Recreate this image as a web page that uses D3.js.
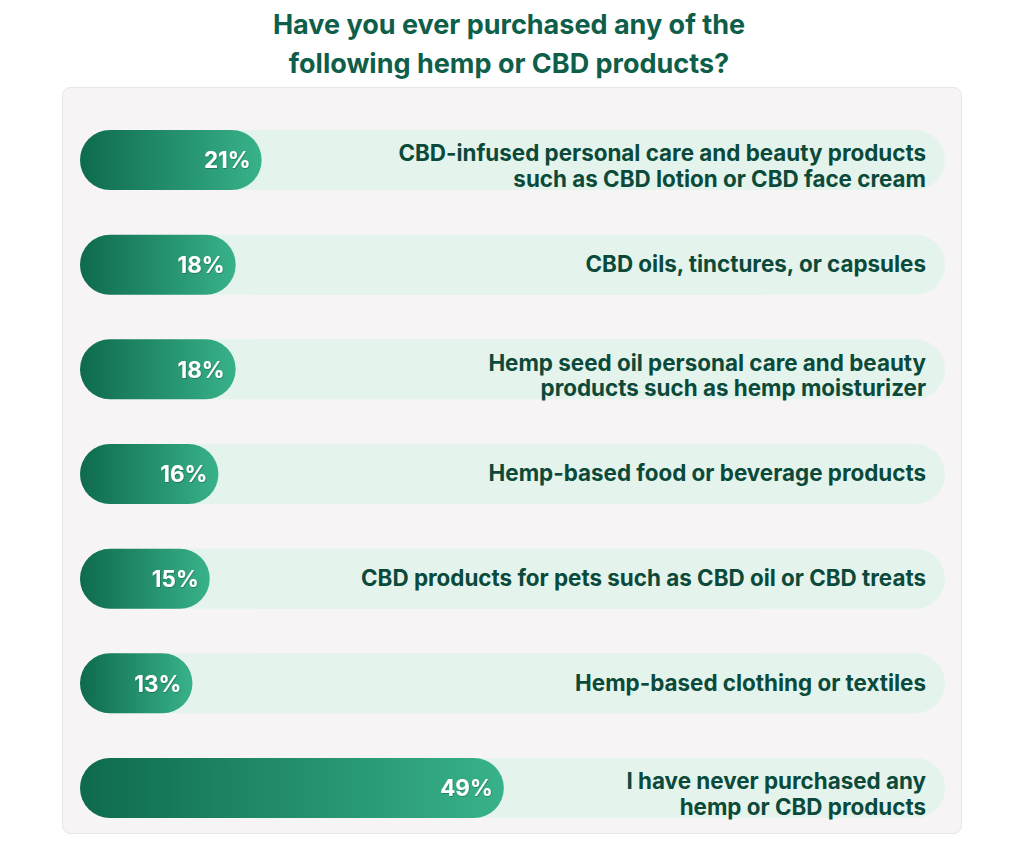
<!DOCTYPE html>
<html>
<head>
<meta charset="utf-8">
<script src="https://cdn.jsdelivr.net/npm/d3@7"></script>
<style>
  html, body { margin: 0; padding: 0; background: #ffffff; }
  svg { display: block; font-family: Inter, "Noto Sans", sans-serif; }
</style>
</head>
<body>
<svg id="chart" width="1024" height="868"></svg>
<script>
const titleLines = ["Have you ever purchased any of the", "following hemp or CBD products?"];
const categories = [
  ["CBD-infused personal care and beauty products", "such as CBD lotion or CBD face cream"],
  ["CBD oils, tinctures, or capsules"],
  ["Hemp seed oil personal care and beauty", "products such as hemp moisturizer"],
  ["Hemp-based food or beverage products"],
  ["CBD products for pets such as CBD oil or CBD treats"],
  ["Hemp-based clothing or textiles"],
  ["I have never purchased any", "hemp or CBD products"]
];
const values = [21, 18, 18, 16, 15, 13, 49];

const svg = d3.select("#chart");

const defs = svg.append("defs");
const grad = defs.append("linearGradient").attr("id", "barGrad")
  .attr("x1", "0%").attr("x2", "100%").attr("y1", "0%").attr("y2", "0%");
grad.append("stop").attr("offset", "0%").attr("stop-color", "#0e6a4e");
grad.append("stop").attr("offset", "100%").attr("stop-color", "#38b28a");
const f = defs.append("filter").attr("id", "tshadow").attr("x", "-20%").attr("y", "-20%").attr("width", "140%").attr("height", "160%");
f.append("feDropShadow").attr("dx", 0.6).attr("dy", 0.8).attr("stdDeviation", 0.6)
  .attr("flood-color", "#000").attr("flood-opacity", 0.3);

// title
const title = svg.append("text")
  .attr("x", 509).attr("y", 34)
  .attr("text-anchor", "middle")
  .attr("fill", "#0e5e4a")
  .attr("font-size", 27).attr("font-weight", 700);
titleLines.forEach((t, i) => {
  title.append("tspan").attr("x", 509).attr("dy", i === 0 ? 0 : 38.5).text(t);
});

// panel
svg.append("rect")
  .attr("x", 62.5).attr("y", 87.5).attr("width", 899).attr("height", 746)
  .attr("rx", 8).attr("fill", "#f6f4f5").attr("stroke", "#e6e6e6").attr("stroke-width", 1);

const idx = categories.map((d, i) => i);
const x = d3.scaleLinear().domain([0, 100]).range([80, 945]);
const y = d3.scaleBand().domain(idx).range([130, 818]).paddingInner(0.4268).paddingOuter(0);
const bh = y.bandwidth();
const r = bh / 2;

const rows = svg.append("g").selectAll("g").data(idx).join("g")
  .attr("transform", i => `translate(0,${y(i)})`);

rows.append("rect")
  .attr("x", x(0)).attr("y", 0)
  .attr("width", x(100) - x(0)).attr("height", bh)
  .attr("rx", r).attr("fill", "#e4f3eb");

rows.append("rect")
  .attr("x", x(0)).attr("y", 0)
  .attr("width", i => x(values[i]) - x(0)).attr("height", bh)
  .attr("rx", r).attr("fill", "url(#barGrad)");

rows.append("text")
  .attr("x", i => x(values[i]) - 11)
  .attr("y", bh / 2 + 8.5)
  .attr("text-anchor", "end")
  .attr("fill", "#ffffff")
  .attr("font-size", 22.5).attr("font-weight", 700)
  .attr("filter", "url(#tshadow)")
  .text(i => values[i] + "%");

rows.append("text")
  .attr("text-anchor", "end")
  .attr("fill", "#0b4a3a")
  .attr("font-size", 22.4).attr("font-weight", 700)
  .each(function(i) {
    const lines = categories[i];
    const t = d3.select(this);
    const y0 = lines.length === 1 ? bh / 2 + 7.5 : bh / 2 + 1.5;
    lines.forEach((l, k) => {
      t.append("tspan").attr("x", 926).attr("y", y0 + k * 25.5).text(l);
    });
  });
</script>
</body>
</html>
